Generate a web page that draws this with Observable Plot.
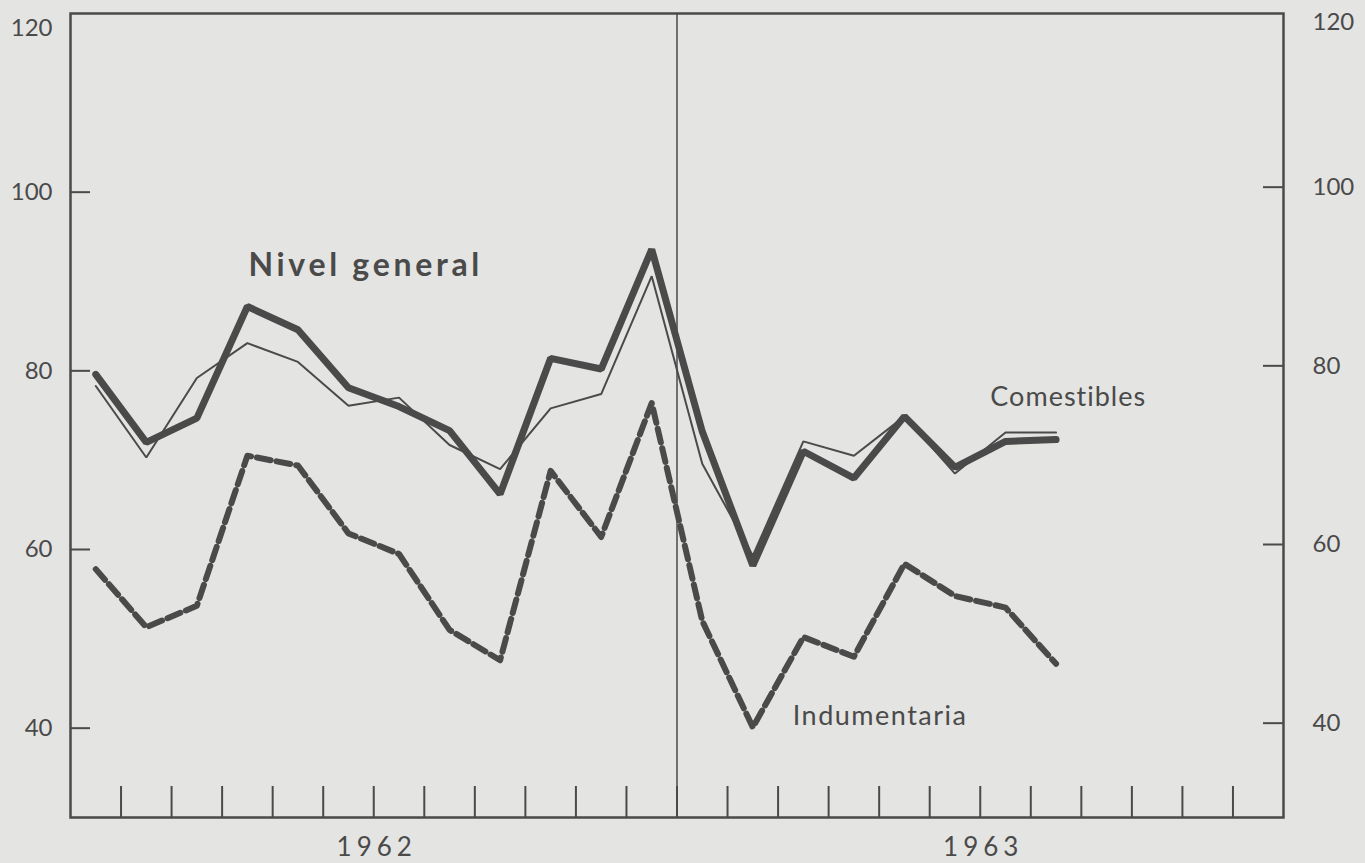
<!DOCTYPE html>
<html>
<head>
<meta charset="utf-8">
<script src="https://cdn.jsdelivr.net/npm/d3@7"></script>
<script src="https://cdn.jsdelivr.net/npm/@observablehq/plot@0.6"></script>
<style>
  html, body { margin: 0; padding: 0; background: #e4e4e2; }
  #chart svg { display: block; }
</style>
</head>
<body>
<div id="chart"></div>
<script>
// Month index 0..19 = Jan 1962 .. Aug 1963 (points at mid-month)
const months = d3.range(20);
const nivelGeneral = [79.6, 72.0, 74.7, 87.2, 84.6, 78.1, 76.0, 73.3, 66.2, 81.4, 80.2, 93.6, 73.2, 58.2, 71.0, 68.0, 74.9, 69.2, 72.1, 72.3];
const comestibles  = [78.3, 70.3, 79.2, 83.1, 81.0, 76.1, 77.0, 71.7, 69.0, 75.8, 77.4, 90.6, 69.6, 59.3, 72.1, 70.5, 74.9, 68.5, 73.1, 73.1];
const indumentaria = [57.8, 51.3, 53.7, 70.5, 69.4, 61.8, 59.5, 51.0, 47.6, 68.8, 61.4, 76.4, 52.0, 40.1, 50.2, 48.0, 58.4, 54.8, 53.5, 47.2];
const years = ["1962", "1963"];
const yTicks = [40, 60, 80, 100];
const yTopTick = [120];
const monthBoundaries = d3.range(1, 24);
const yearBoundary = [12];

const ink = "#4a4a4a";
const font = "Lato, 'DejaVu Sans', sans-serif";

const rows = (vals) => months.map((m, i) => ({x: m + 0.5, y: vals[i]}));

const plot = Plot.plot({
  width: 1365,
  height: 863,
  marginLeft: 70,
  marginRight: 82,
  marginTop: 13,
  marginBottom: 46,
  style: {background: "transparent", fontFamily: font, color: ink},
  x: {domain: [0, 24], label: null},
  y: {domain: [30, 120], label: null},
  marks: [
    Plot.frame({stroke: ink, strokeWidth: 2.5}),
    Plot.ruleX(yearBoundary, {y1: 30, y2: 120, stroke: ink, strokeWidth: 1.5}),
    // bottom month ticks (inward)
    Plot.ruleX(monthBoundaries, {y1: 30, y2: 30 + 31 / 8.93, stroke: ink, strokeWidth: 2}),
    // left and right y ticks (inward)
    Plot.ruleY(yTicks, {x1: 0, x2: 20 / 50.54, stroke: ink, strokeWidth: 2}),
    Plot.ruleY(yTicks, {x1: 24 - 20 / 50.54, x2: 24, stroke: ink, strokeWidth: 2, dy: -5}),
    Plot.axisY(yTicks, {anchor: "left", label: null, tickSize: 0, tickPadding: 18, fontSize: 24, fill: ink}),
    Plot.axisY(yTicks, {anchor: "right", label: null, tickSize: 0, tickPadding: 29, fontSize: 24, fill: ink, dy: -5}),
    Plot.text(yTopTick, {x: 0, y: d => d, text: d => String(d), dx: -18, dy: 15, textAnchor: "end", fontSize: 24, fill: ink}),
    Plot.text(yTopTick, {x: 24, y: d => d, text: d => String(d), dx: 29, dy: 9, textAnchor: "start", fontSize: 24, fill: ink}),
    Plot.axisX([6, 18], {anchor: "bottom", label: null, tickSize: 0, tickPadding: 20, fontSize: 26, fill: ink,
      tickFormat: d => years[(d - 6) / 12], dx: 3, className: "years"}),
    // series
    Plot.line(rows(indumentaria), {x: "x", y: "y", stroke: ink, strokeWidth: 6, strokeDasharray: "14,6", strokeLinejoin: "round"}),
    Plot.line(rows(nivelGeneral), {x: "x", y: "y", stroke: ink, strokeWidth: 7, strokeLinejoin: "miter"}),
    Plot.line(rows(comestibles), {x: "x", y: "y", stroke: ink, strokeWidth: 2, strokeLinejoin: "miter"}),
    // labels
    Plot.text([{x: 3.52, y: 91.8, t: "Nivel general"}], {x: "x", y: "y", text: "t", textAnchor: "start", fontSize: 32, fontWeight: "bold", fill: ink, className: "lab-nivel"}),
    Plot.text([{x: 18.2, y: 77.0, t: "Comestibles"}], {x: "x", y: "y", text: "t", textAnchor: "start", fontSize: 27, fill: ink, className: "lab-com"}),
    Plot.text([{x: 14.29, y: 41.3, t: "Indumentaria"}], {x: "x", y: "y", text: "t", textAnchor: "start", fontSize: 27, fill: ink, className: "lab-ind"})
  ]
});
const s = d3.select(plot);
s.selectAll(".lab-nivel text").attr("letter-spacing", "3.7px");
s.selectAll(".lab-com text").attr("letter-spacing", "1px");
s.selectAll(".lab-ind text").attr("letter-spacing", "1.5px");
s.selectAll(".years text").attr("letter-spacing", "5px");
document.getElementById("chart").appendChild(plot);
</script>
</body>
</html>
